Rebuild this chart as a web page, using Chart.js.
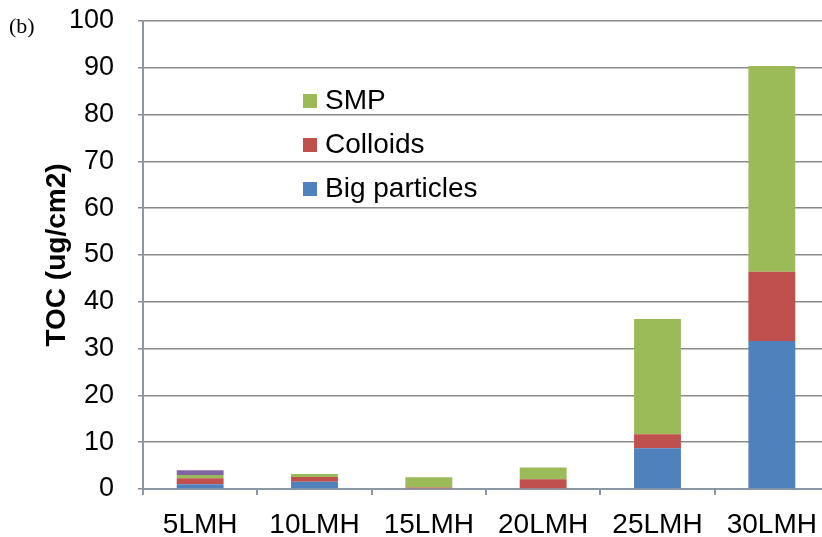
<!DOCTYPE html>
<html>
<head>
<meta charset="utf-8">
<script src="https://cdn.jsdelivr.net/npm/chart.js@4/dist/chart.umd.min.js"></script>
<style>
  html, body { margin: 0; padding: 0; background: #fff; overflow: hidden; }
  #wrap { width: 822px; height: 537px; overflow: hidden; position: relative; }
  canvas { display: block; }
</style>
</head>
<body>
<div id="wrap"><canvas id="c" width="840" height="537"></canvas></div>
<script>
// Flux categories
const categories = ['5LMH', '10LMH', '15LMH', '20LMH', '25LMH', '30LMH'];

// TOC fractions (ug/cm2), stacked bottom to top
const bigParticles = [1.0, 1.55, 0, 0, 8.7, 31.6];
const colloids     = [1.3, 1.0, 0.3, 2.1, 3.0, 14.8];
const smp          = [0.7, 0.65, 2.2, 2.5, 24.6, 44.0];
const other        = [1.0, 0, 0, 0, 0, 0];

// Y axis range and step
const yMin = 0, yMax = 100, yStep = 10;

const FONT = "'Liberation Sans', Arial, sans-serif";
const AXIS_COLOR = '#8b97a5';
const GRID_COLOR = '#8a8a8a';

// Legend drawn inside the plot, top entry first
const insideLegend = {
  id: 'insideLegend',
  afterDraw(chart) {
    const ctx = chart.ctx;
    const o = chart.options.plugins.insideLegend;
    const items = chart.data.datasets.filter(d => d.inLegend).reverse();
    ctx.save();
    ctx.font = o.fontSize + 'px ' + FONT;
    ctx.textBaseline = 'middle';
    ctx.textAlign = 'left';
    items.forEach((d, i) => {
      const cy = o.y + i * o.rowGap;
      ctx.fillStyle = d.backgroundColor;
      ctx.fillRect(o.x, cy - o.box / 2, o.box, o.box);
      ctx.fillStyle = '#000';
      ctx.fillText(d.label, o.x + o.box + 8, cy);
    });
    ctx.restore();
  }
};

// Panel letter in the top-left corner
const panelLabel = {
  id: 'panelLabel',
  afterDraw(chart) {
    const ctx = chart.ctx;
    ctx.save();
    ctx.font = "22px 'Liberation Serif', 'Times New Roman', serif";
    ctx.fillStyle = '#000';
    ctx.textBaseline = 'alphabetic';
    ctx.textAlign = 'left';
    ctx.fillText('(b)', 9, 33);
    ctx.restore();
  }
};

new Chart(document.getElementById('c'), {
  type: 'bar',
  data: {
    labels: categories,
    datasets: [
      { label: 'Big particles', data: bigParticles, backgroundColor: '#4f81bd', inLegend: true },
      { label: 'Colloids', data: colloids, backgroundColor: '#c0504d', inLegend: true },
      { label: 'SMP', data: smp, backgroundColor: '#9bbb59', inLegend: true },
      { label: 'Other', data: other, backgroundColor: '#8064a2', inLegend: false }
    ]
  },
  options: {
    responsive: false,
    animation: false,
    devicePixelRatio: 1,
    layout: { padding: { top: 21, right: 11, left: 0, bottom: 0 } },
    datasets: {
      bar: { categoryPercentage: 1, barPercentage: 0.41, borderWidth: 0 }
    },
    plugins: {
      legend: { display: false },
      tooltip: { enabled: false },
      insideLegend: { x: 303, y: 101, rowGap: 44, box: 14, fontSize: 28 }
    },
    scales: {
      x: {
        stacked: true,
        offset: true,
        grid: {
          display: true,
          drawOnChartArea: false,
          offset: true,
          color: AXIS_COLOR,
          lineWidth: 2,
          tickLength: 6
        },
        border: { color: AXIS_COLOR, width: 2 },
        ticks: { color: '#000', font: { family: FONT, size: 28 }, padding: 13, maxRotation: 0 },
        afterFit(scale) {
          scale.height = 48;
          scale.paddingLeft = 0;
          scale.paddingRight = 0;
        }
      },
      y: {
        stacked: true,
        min: yMin,
        max: yMax,
        ticks: { stepSize: yStep, color: '#000', font: { family: FONT, size: 27 }, padding: 24 },
        grid: { color: GRID_COLOR, lineWidth: 1.5, tickLength: 5 },
        border: { color: AXIS_COLOR, width: 2 },
        title: {
          display: true,
          text: 'TOC (ug/cm2)',
          color: '#000',
          font: { family: FONT, size: 28, weight: 'bold' },
          padding: { top: 40, bottom: 0 }
        },
        afterFit(scale) {
          scale.width = 143;
          scale.paddingTop = 0;
          scale.paddingBottom = 0;
        }
      }
    }
  },
  plugins: [insideLegend, panelLabel]
});
</script>
</body>
</html>
